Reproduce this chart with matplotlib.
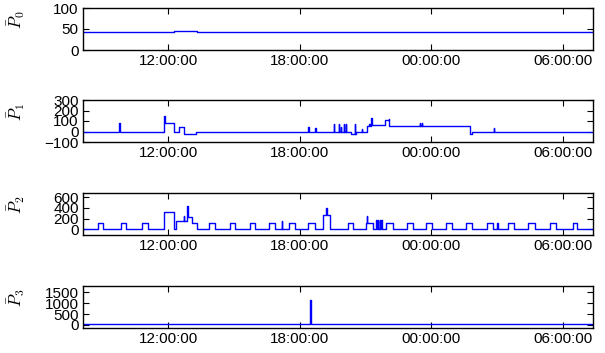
import matplotlib
matplotlib.use("Agg")
import matplotlib.pyplot as plt

plt.rcParams["font.family"] = ["Liberation Sans", "DejaVu Sans"]
plt.rcParams["mathtext.fontset"] = "cm"

# ----------------------------
# Data (time in hours from 00:00 of the first day)
# ----------------------------
x_start, x_end = 8.12, 31.37
tick_hours = [12, 18, 24, 30]
tick_labels = ["12:00:00", "18:00:00", "00:00:00", "06:00:00"]

t0 = [8.12, 12.26, 13.31, 31.37]
v0 = [42, 45, 42, 42]

t1 = [8.12, 9.77, 9.79, 11.82, 11.84, 12.27, 12.50, 12.73, 13.29, 18.40,
      18.42, 18.70, 18.72, 19.55, 19.57, 19.79, 19.81, 19.87, 19.89, 20.00,
      20.02, 20.10, 20.12, 20.32, 20.52, 20.54, 20.58, 20.82, 20.84, 21.07,
      21.17, 21.19, 21.27, 21.29, 21.87, 22.05, 22.07, 23.47, 23.49, 23.57,
      23.59, 25.74, 25.86, 26.85, 26.87, 31.37]
v1 = [0, 85, 0, 150, 85, 0, 45, -20, 0, 40,
      0, 35, 0, 75, 0, 75, 0, 40, 0, 75,
      0, 75, 0, -20, 75, -20, 0, 25, 0, 50,
      75, 50, 130, 60, 105, 115, 48, 85, 48, 85,
      48, -20, 0, 33, 0, 0]

t2 = [8.12, 8.81, 9.04, 9.83, 10.06, 10.83, 11.09, 11.80, 12.27, 12.34,
      12.72, 12.74, 12.88, 12.90, 13.08, 13.32, 13.87, 14.13, 14.81, 15.07,
      15.72, 15.98, 16.60, 16.86, 17.19, 17.21, 17.51, 17.77, 18.40, 18.68,
      19.06, 19.20, 19.24, 19.37, 20.18, 20.45, 21.00, 21.06, 21.08, 21.34,
      21.49, 21.51, 21.57, 21.59, 21.64, 21.66, 21.72, 21.74, 21.95, 22.27,
      22.87, 23.17, 23.75, 24.05, 24.68, 24.93, 25.59, 25.85, 26.55, 26.82,
      27.00, 27.02, 27.48, 27.78, 28.42, 28.71, 29.40, 29.70, 30.45, 30.66,
      31.37]
v2 = [0, 120, 0, 120, 0, 120, 0, 320, 0, 150,
      240, 150, 435, 220, 120, 0, 120, 0, 120, 0,
      120, 0, 120, 0, 160, 0, 120, 0, 120, 0,
      260, 390, 260, 0, 120, 0, 120, 240, 120, 0,
      170, 0, 170, 0, 170, 0, 170, 0, 120, 0,
      120, 0, 120, 0, 120, 0, 120, 0, 120, 0,
      120, 0, 120, 0, 120, 0, 120, 0, 120, 0,
      0]

t3 = [8.12, 18.48, 18.50, 31.37]
v3 = [20, 1150, 20, 20]

series = [(t0, v0), (t1, v1), (t2, v2), (t3, v3)]
ylims = [(0, 100), (-100, 300), (-100, 680), (-150, 1800)]
yticks = [[0, 50, 100], [-100, 0, 100, 200, 300], [0, 200, 400, 600],
          [0, 500, 1000, 1500]]
ylabels = [r"$\bar{P}_0$", r"$\bar{P}_1$", r"$\bar{P}_2$", r"$\bar{P}_3$"]

# ----------------------------
# Plot
# ----------------------------
fig = plt.figure(figsize=(6.05, 3.53), dpi=100)
tops = [8, 100, 192.7, 286]
for i, (t, v) in enumerate(series):
    top = tops[i]
    ax = fig.add_axes([83 / 605, 1 - (top + 42) / 353, 510 / 605, 42 / 353])
    ax.plot(t, v, color="#0000ff", linewidth=1.0, drawstyle="steps-post")
    ax.set_xlim(x_start, x_end)
    ax.set_ylim(*ylims[i])
    ax.set_yticks(yticks[i])
    ax.set_xticks(tick_hours)
    ax.set_xticklabels(tick_labels)
    ax.tick_params(direction="in", top=True, right=True, length=4,
                   labelsize=11, pad=3)
    ax.set_ylabel(ylabels[i], fontsize=12)
    ax.yaxis.set_label_coords(-0.11, 0.72)
    for s in ax.spines.values():
        s.set_linewidth(1.0)

plt.savefig("out.png", dpi=100)
